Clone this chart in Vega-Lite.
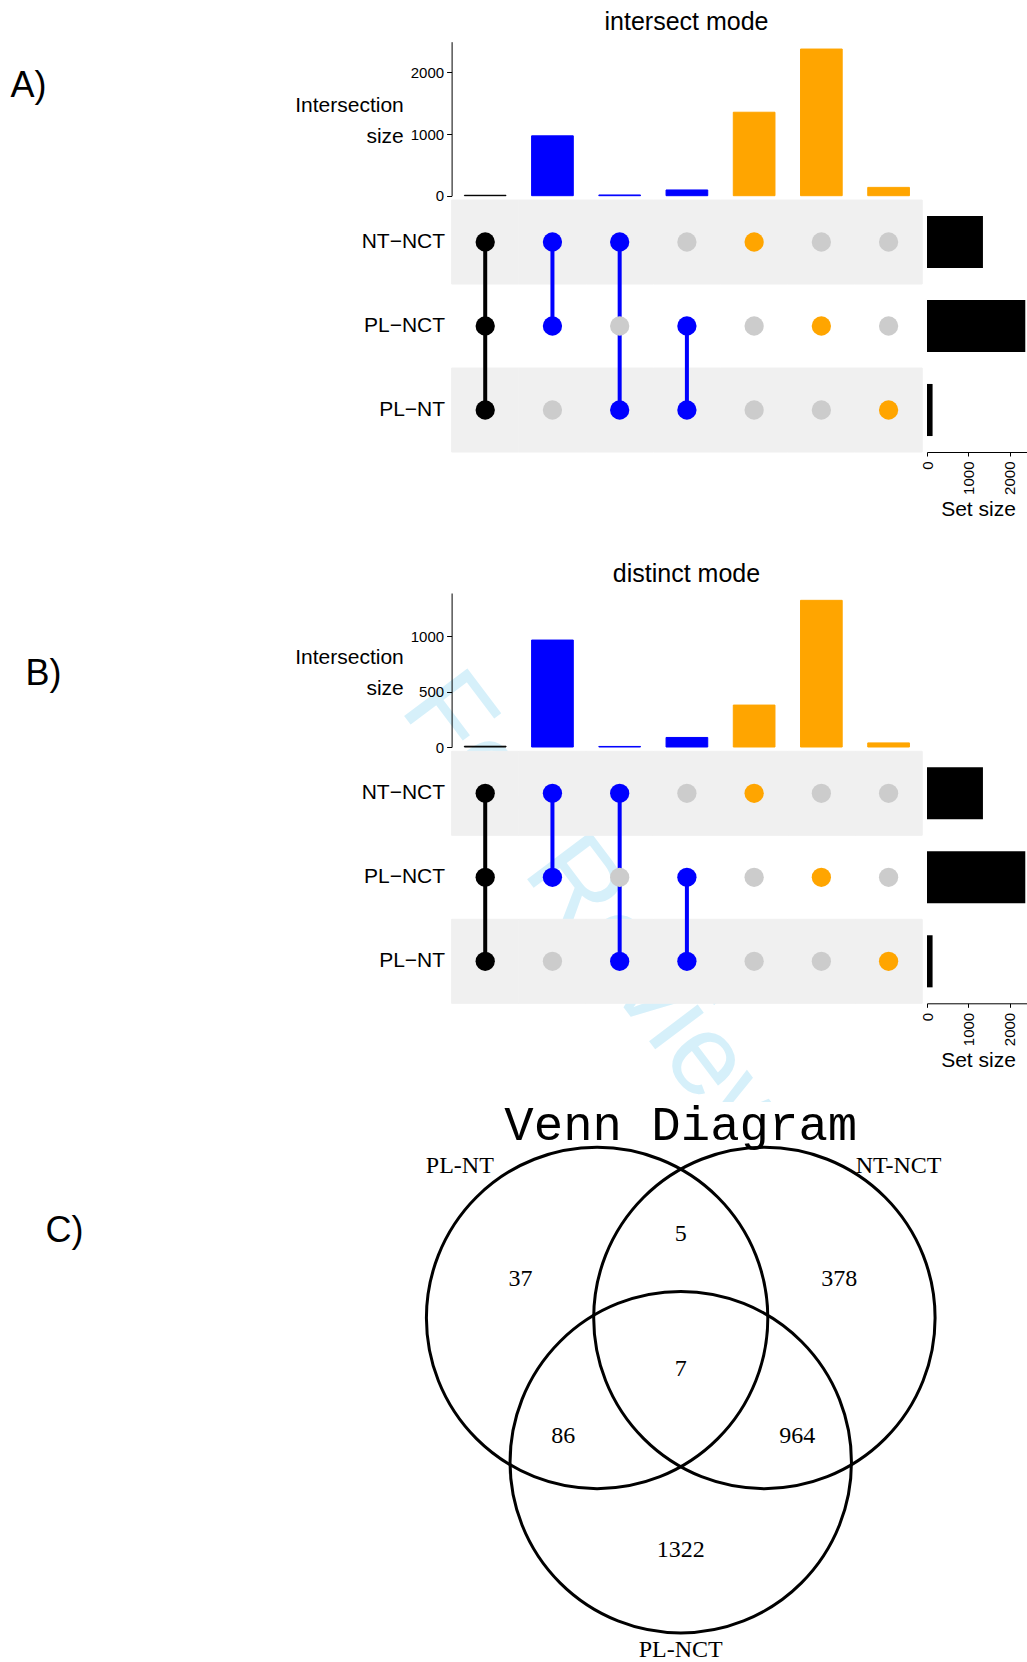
{
  "$schema": "https://vega.github.io/schema/vega-lite/v6.json",
  "width": 1027,
  "height": 1662,
  "autosize": {"type": "none"},
  "padding": 0,
  "background": "#ffffff",
  "datasets": {
    "bars_intersect": [
      {"combo": "NT−NCT & PL−NCT & PL−NT", "size": 7, "degree": "three sets"},
      {"combo": "NT−NCT & PL−NCT", "size": 971, "degree": "two sets"},
      {"combo": "NT−NCT & PL−NT", "size": 12, "degree": "two sets"},
      {"combo": "PL−NCT & PL−NT", "size": 93, "degree": "two sets"},
      {"combo": "NT−NCT only", "size": 1354, "degree": "one set"},
      {"combo": "PL−NCT only", "size": 2379, "degree": "one set"},
      {"combo": "PL−NT only", "size": 135, "degree": "one set"}
    ],
    "bars_distinct": [
      {"combo": "NT−NCT & PL−NCT & PL−NT", "size": 7, "degree": "three sets"},
      {"combo": "NT−NCT & PL−NCT", "size": 964, "degree": "two sets"},
      {"combo": "NT−NCT & PL−NT", "size": 5, "degree": "two sets"},
      {"combo": "PL−NCT & PL−NT", "size": 86, "degree": "two sets"},
      {"combo": "NT−NCT only", "size": 378, "degree": "one set"},
      {"combo": "PL−NCT only", "size": 1322, "degree": "one set"},
      {"combo": "PL−NT only", "size": 37, "degree": "one set"}
    ],
    "matrix": [
      {"combo": "NT−NCT & PL−NCT & PL−NT", "set": "NT−NCT", "status": "three sets"},
      {"combo": "NT−NCT & PL−NCT & PL−NT", "set": "PL−NCT", "status": "three sets"},
      {"combo": "NT−NCT & PL−NCT & PL−NT", "set": "PL−NT", "status": "three sets"},
      {"combo": "NT−NCT & PL−NCT", "set": "NT−NCT", "status": "two sets"},
      {"combo": "NT−NCT & PL−NCT", "set": "PL−NCT", "status": "two sets"},
      {"combo": "NT−NCT & PL−NCT", "set": "PL−NT", "status": "absent"},
      {"combo": "NT−NCT & PL−NT", "set": "NT−NCT", "status": "two sets"},
      {"combo": "NT−NCT & PL−NT", "set": "PL−NCT", "status": "absent"},
      {"combo": "NT−NCT & PL−NT", "set": "PL−NT", "status": "two sets"},
      {"combo": "PL−NCT & PL−NT", "set": "NT−NCT", "status": "absent"},
      {"combo": "PL−NCT & PL−NT", "set": "PL−NCT", "status": "two sets"},
      {"combo": "PL−NCT & PL−NT", "set": "PL−NT", "status": "two sets"},
      {"combo": "NT−NCT only", "set": "NT−NCT", "status": "one set"},
      {"combo": "NT−NCT only", "set": "PL−NCT", "status": "absent"},
      {"combo": "NT−NCT only", "set": "PL−NT", "status": "absent"},
      {"combo": "PL−NCT only", "set": "NT−NCT", "status": "absent"},
      {"combo": "PL−NCT only", "set": "PL−NCT", "status": "one set"},
      {"combo": "PL−NCT only", "set": "PL−NT", "status": "absent"},
      {"combo": "PL−NT only", "set": "NT−NCT", "status": "absent"},
      {"combo": "PL−NT only", "set": "PL−NCT", "status": "absent"},
      {"combo": "PL−NT only", "set": "PL−NT", "status": "one set"}
    ],
    "sets": [
      {"set": "NT−NCT", "size": 1354},
      {"set": "PL−NCT", "size": 2379},
      {"set": "PL−NT", "size": 135}
    ],
    "venn_circles": [
      {"set": "PL-NT", "vx": -0.49, "vy": 0.285},
      {"set": "NT-NCT", "vx": 0.49, "vy": 0.285},
      {"set": "PL-NCT", "vx": 0, "vy": -0.56}
    ],
    "venn_counts": [
      {"region": "PL-NT only", "count": 37, "vx": -0.939, "vy": 0.515},
      {"region": "PL-NT and NT-NCT", "count": 5, "vx": 0, "vy": 0.774},
      {"region": "NT-NCT only", "count": 378, "vx": 0.929, "vy": 0.515},
      {"region": "all three", "count": 7, "vx": 0, "vy": -0.012},
      {"region": "PL-NT and PL-NCT", "count": 86, "vx": -0.688, "vy": -0.404},
      {"region": "NT-NCT and PL-NCT", "count": 964, "vx": 0.683, "vy": -0.404},
      {"region": "PL-NCT only", "count": 1322, "vx": 0, "vy": -1.076}
    ],
    "venn_sets": [
      {"set": "PL-NT", "vx": -1.294, "vy": 1.175},
      {"set": "NT-NCT", "vx": 1.276, "vy": 1.175},
      {"set": "PL-NCT", "vx": 0, "vy": -1.66}
    ]
  },
  "layer": [
    {
      "data": {"name": "bars_intersect"},
      "mark": {"type": "bar", "strokeWidth": 1},
      "encoding": {
        "x": {
          "field": "combo", "type": "nominal",
          "scale": {"type": "band", "domain": ["NT−NCT & PL−NCT & PL−NT", "NT−NCT & PL−NCT", "NT−NCT & PL−NT", "PL−NCT & PL−NT", "NT−NCT only", "PL−NCT only", "PL−NT only"], "range": [451.6, 922.2], "paddingInner": 0.38, "paddingOuter": 0.19},
          "axis": {"orient": "top", "offset": 0, "domain": false, "ticks": false, "labels": false, "title": "intersect mode", "titleX": 686, "titleY": 29, "titleAngle": 0, "titleAlign": "center", "titleBaseline": "alphabetic", "titleFontSize": 25}
        },
        "y": {
          "field": "size", "type": "quantitative",
          "scale": {"domain": [0, 2498], "range": [195.7, 41.7], "nice": false, "zero": true},
          "axis": {"orient": "left", "offset": -451.6, "values": [0, 1000, 2000], "format": "d", "tickSize": 5, "labelPadding": 3, "labelFontSize": 15, "title": ["Intersection", "size"], "titleAngle": 0, "titleAlign": "right", "titleBaseline": "alphabetic", "titleX": -48.3, "titleY": 111, "titleFontSize": 21, "titleLineHeight": 31}
        },
        "color": {"field": "degree", "type": "nominal", "scale": {"domain": ["three sets", "two sets", "one set"], "range": ["#000000", "#0000ff", "#ffa500"]}, "legend": null},
        "stroke": {"field": "degree", "type": "nominal", "scale": {"domain": ["three sets", "two sets", "one set"], "range": ["#000000", "#0000ff", "#ffa500"]}, "legend": null}
      }
    },
    {
      "data": {"name": "matrix"},
      "encoding": {
        "x": {
          "field": "combo", "type": "nominal",
          "scale": {"type": "band", "domain": ["NT−NCT & PL−NCT & PL−NT", "NT−NCT & PL−NCT", "NT−NCT & PL−NT", "PL−NCT & PL−NT", "NT−NCT only", "PL−NCT only", "PL−NT only"], "range": [451.6, 922.2], "paddingInner": 0, "paddingOuter": 0},
          "axis": {"orient": "bottom", "offset": -1662, "zindex": 0, "domain": false, "ticks": false, "labels": false, "title": "For Review", "titleX": 398, "titleY": 708, "titleAngle": 53, "titleAlign": "left", "titleBaseline": "alphabetic", "titleFontSize": 115, "titleColor": "#d6f0fa"}
        },
        "y": {
          "field": "set", "type": "nominal",
          "scale": {"type": "band", "domain": ["NT−NCT", "PL−NCT", "PL−NT"], "range": [200, 452], "paddingInner": 0, "paddingOuter": 0},
          "axis": {"orient": "left", "offset": -451.6, "domain": false, "ticks": false, "labelPadding": 7, "labelFontSize": 21, "title": "A)", "titleX": -441.6, "titleY": 96, "titleAngle": 0, "titleAlign": "left", "titleBaseline": "alphabetic", "titleFontSize": 36}
        }
      },
      "layer": [
        {
          "transform": [{"filter": {"field": "set", "oneOf": ["NT−NCT", "PL−NT"]}}],
          "mark": {"type": "rect", "color": "#f0f0f0", "stroke": "#f0f0f0", "strokeWidth": 1}
        },
        {
          "transform": [{"filter": "datum.status != 'absent'"}],
          "mark": {"type": "line", "strokeWidth": 4},
          "encoding": {
            "detail": {"field": "combo"},
            "color": {"field": "status", "type": "nominal", "scale": {"domain": ["three sets", "two sets", "one set", "absent"], "range": ["#000000", "#0000ff", "#ffa500", "#cccccc"]}, "legend": null}
          }
        },
        {
          "mark": {"type": "circle", "size": 372, "opacity": 1},
          "encoding": {
            "color": {"field": "status", "type": "nominal", "scale": {"domain": ["three sets", "two sets", "one set", "absent"], "range": ["#000000", "#0000ff", "#ffa500", "#cccccc"]}, "legend": null}
          }
        }
      ]
    },
    {
      "data": {"name": "sets"},
      "mark": {"type": "bar", "color": "#000000"},
      "encoding": {
        "y": {"field": "set", "type": "nominal", "scale": {"type": "band", "domain": ["NT−NCT", "PL−NCT", "PL−NT"], "range": [200, 452], "paddingInner": 0.38, "paddingOuter": 0.19}, "axis": null},
        "x": {
          "field": "size", "type": "quantitative",
          "scale": {"domain": [0, 2498], "range": [927, 1030.2], "nice": false, "zero": true},
          "axis": {"orient": "bottom", "offset": -1210, "values": [0, 1000, 2000], "format": "d", "tickSize": 4, "labelAngle": 270, "labelAlign": "right", "labelBaseline": "middle", "labelPadding": 5, "labelFontSize": 15, "title": "Set size", "titleX": 978, "titleY": 63, "titleAngle": 0, "titleAlign": "center", "titleBaseline": "alphabetic", "titleFontSize": 21}
        }
      }
    },
    {
      "data": {"name": "bars_distinct"},
      "mark": {"type": "bar", "strokeWidth": 1},
      "encoding": {
        "x": {
          "field": "combo", "type": "nominal",
          "scale": {"type": "band", "domain": ["NT−NCT & PL−NCT & PL−NT", "NT−NCT & PL−NCT", "NT−NCT & PL−NT", "PL−NCT & PL−NT", "NT−NCT only", "PL−NCT only", "PL−NT only"], "range": [451.6, 922.2], "paddingInner": 0.38, "paddingOuter": 0.19},
          "axis": {"orient": "top", "offset": 0, "domain": false, "ticks": false, "labels": false, "title": "distinct mode", "titleX": 686, "titleY": 581, "titleAngle": 0, "titleAlign": "center", "titleBaseline": "alphabetic", "titleFontSize": 25}
        },
        "y": {
          "field": "size", "type": "quantitative",
          "scale": {"domain": [0, 1388.1], "range": [747, 593], "nice": false, "zero": true},
          "axis": {"orient": "left", "offset": -451.6, "values": [0, 500, 1000], "format": "d", "tickSize": 5, "labelPadding": 3, "labelFontSize": 15, "title": ["Intersection", "size"], "titleAngle": 0, "titleAlign": "right", "titleBaseline": "alphabetic", "titleX": -48.3, "titleY": 663, "titleFontSize": 21, "titleLineHeight": 31}
        },
        "color": {"field": "degree", "type": "nominal", "scale": {"domain": ["three sets", "two sets", "one set"], "range": ["#000000", "#0000ff", "#ffa500"]}, "legend": null},
        "stroke": {"field": "degree", "type": "nominal", "scale": {"domain": ["three sets", "two sets", "one set"], "range": ["#000000", "#0000ff", "#ffa500"]}, "legend": null}
      }
    },
    {
      "data": {"name": "matrix"},
      "encoding": {
        "x": {
          "field": "combo", "type": "nominal",
          "scale": {"type": "band", "domain": ["NT−NCT & PL−NCT & PL−NT", "NT−NCT & PL−NCT", "NT−NCT & PL−NT", "PL−NCT & PL−NT", "NT−NCT only", "PL−NCT only", "PL−NT only"], "range": [451.6, 922.2], "paddingInner": 0, "paddingOuter": 0},
          "axis": {"orient": "bottom", "offset": -1662, "domain": false, "ticks": false, "labels": false, "title": "C)", "titleX": 45, "titleY": 1241.5, "titleAngle": 0, "titleAlign": "left", "titleBaseline": "alphabetic", "titleFontSize": 36}
        },
        "y": {
          "field": "set", "type": "nominal",
          "scale": {"type": "band", "domain": ["NT−NCT", "PL−NCT", "PL−NT"], "range": [751.3, 1003.3], "paddingInner": 0, "paddingOuter": 0},
          "axis": {"orient": "left", "offset": -451.6, "domain": false, "ticks": false, "labelPadding": 7, "labelFontSize": 21, "title": "B)", "titleX": -426.6, "titleY": 684.3, "titleAngle": 0, "titleAlign": "left", "titleBaseline": "alphabetic", "titleFontSize": 36}
        }
      },
      "layer": [
        {
          "transform": [{"filter": {"field": "set", "oneOf": ["NT−NCT", "PL−NT"]}}],
          "mark": {"type": "rect", "color": "#f0f0f0", "stroke": "#f0f0f0", "strokeWidth": 1}
        },
        {
          "transform": [{"filter": "datum.status != 'absent'"}],
          "mark": {"type": "line", "strokeWidth": 4},
          "encoding": {
            "detail": {"field": "combo"},
            "color": {"field": "status", "type": "nominal", "scale": {"domain": ["three sets", "two sets", "one set", "absent"], "range": ["#000000", "#0000ff", "#ffa500", "#cccccc"]}, "legend": null}
          }
        },
        {
          "mark": {"type": "circle", "size": 372, "opacity": 1},
          "encoding": {
            "color": {"field": "status", "type": "nominal", "scale": {"domain": ["three sets", "two sets", "one set", "absent"], "range": ["#000000", "#0000ff", "#ffa500", "#cccccc"]}, "legend": null}
          }
        }
      ]
    },
    {
      "data": {"name": "sets"},
      "mark": {"type": "bar", "color": "#000000"},
      "encoding": {
        "y": {"field": "set", "type": "nominal", "scale": {"type": "band", "domain": ["NT−NCT", "PL−NCT", "PL−NT"], "range": [751.3, 1003.3], "paddingInner": 0.38, "paddingOuter": 0.19}, "axis": null},
        "x": {
          "field": "size", "type": "quantitative",
          "scale": {"domain": [0, 2498], "range": [927, 1030.2], "nice": false, "zero": true},
          "axis": {"orient": "bottom", "offset": -658.7, "values": [0, 1000, 2000], "format": "d", "tickSize": 4, "labelAngle": 270, "labelAlign": "right", "labelBaseline": "middle", "labelPadding": 5, "labelFontSize": 15, "title": "Set size", "titleX": 978, "titleY": 63, "titleAngle": 0, "titleAlign": "center", "titleBaseline": "alphabetic", "titleFontSize": 21}
        }
      }
    },
    {
      "layer": [
        {
          "data": {"values": [{"panel": "C"}]},
          "mark": {"type": "rect", "color": "#ffffff"},
          "encoding": {
            "x": {"datum": -2, "type": "quantitative", "scale": {"domain": [-2, 2], "range": [339.35, 1022.15], "nice": false, "zero": false}, "axis": null},
            "x2": {"datum": 2},
            "y": {"datum": 1.55, "type": "quantitative", "scale": {"domain": [-2, 2], "range": [1708, 1025.2], "nice": false, "zero": false}, "axis": null},
            "y2": {"datum": -2}
          }
        },
        {
          "data": {"name": "venn_circles"},
          "mark": {"type": "point", "shape": "circle", "filled": false, "size": 116554, "strokeWidth": 3, "color": "#000000", "opacity": 1},
          "encoding": {
            "x": {"field": "vx", "type": "quantitative", "axis": null},
            "y": {"field": "vy", "type": "quantitative", "axis": null}
          }
        },
        {
          "data": {"name": "venn_counts"},
          "mark": {"type": "text", "font": "Liberation Serif", "fontSize": 24, "align": "center", "baseline": "middle", "color": "#000000"},
          "encoding": {
            "x": {"field": "vx", "type": "quantitative", "axis": null},
            "y": {"field": "vy", "type": "quantitative", "axis": null},
            "text": {"field": "count", "type": "quantitative"}
          }
        },
        {
          "data": {"name": "venn_sets"},
          "mark": {"type": "text", "font": "Liberation Serif", "fontSize": 24, "align": "center", "baseline": "middle", "color": "#000000"},
          "encoding": {
            "x": {"field": "vx", "type": "quantitative", "axis": null},
            "y": {"field": "vy", "type": "quantitative", "axis": null},
            "text": {"field": "set", "type": "nominal"}
          }
        },
        {
          "data": {"values": [{"title": "Venn Diagram"}]},
          "mark": {"type": "text", "font": "Liberation Mono", "fontSize": 49, "align": "center", "baseline": "alphabetic", "color": "#000000"},
          "encoding": {
            "x": {"datum": 0, "type": "quantitative", "axis": null},
            "y": {"datum": 1.327, "type": "quantitative", "axis": null},
            "text": {"field": "title", "type": "nominal"}
          }
        }
      ]
    }
  ],
  "resolve": {
    "scale": {"x": "independent", "y": "independent", "color": "independent", "stroke": "independent"},
    "axis": {"x": "independent", "y": "independent"}
  },
  "config": {
    "font": "Liberation Sans",
    "view": {"stroke": null},
    "axis": {"grid": false, "labelFont": "Liberation Sans", "titleFont": "Liberation Sans", "titleFontWeight": "normal", "labelColor": "#000000", "titleColor": "#000000", "domainColor": "#000000", "tickColor": "#000000", "labelFlush": false, "labelOverlap": false, "domainWidth": 1, "tickWidth": 1}
  }
}
